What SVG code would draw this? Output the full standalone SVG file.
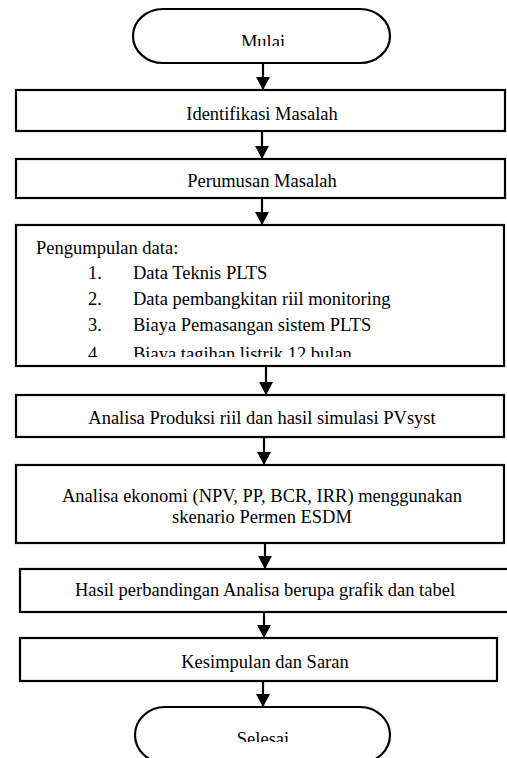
<svg xmlns="http://www.w3.org/2000/svg" width="507" height="758" viewBox="0 0 507 758">
<style>
.box{fill:#fff;stroke:#000;stroke-width:2.2}
text{font-family:'Liberation Serif','Tinos','Times New Roman','DejaVu Serif',serif;font-size:18.5px;fill:#000}
.c{text-anchor:middle}
.ln{stroke:#000;stroke-width:2.2;fill:none}
</style>
<defs>
<marker id="ah" markerWidth="13" markerHeight="14" refX="13" refY="7" orient="auto" markerUnits="userSpaceOnUse" viewBox="0 0 13 14">
<path d="M0,0 L13,7 L0,14 Z" fill="#000"/>
</marker>
<clipPath id="cMulai"><rect x="0" y="0" width="507" height="46"/></clipPath>
<clipPath id="cItem4"><rect x="0" y="340" width="507" height="17"/></clipPath>
<clipPath id="cSelesai"><rect x="0" y="700" width="507" height="42"/></clipPath>
</defs>
<rect width="507" height="758" fill="#fff"/>
<g id="connectors">
<line class="ln" x1="263" y1="63" x2="263" y2="90" marker-end="url(#ah)"/>
<line class="ln" x1="262" y1="131" x2="262" y2="159" marker-end="url(#ah)"/>
<line class="ln" x1="262" y1="198" x2="262" y2="225" marker-end="url(#ah)"/>
<line class="ln" x1="266" y1="366" x2="266" y2="395" marker-end="url(#ah)"/>
<line class="ln" x1="264" y1="437" x2="264" y2="465" marker-end="url(#ah)"/>
<line class="ln" x1="265" y1="543" x2="265" y2="569" marker-end="url(#ah)"/>
<line class="ln" x1="264" y1="612" x2="264" y2="638" marker-end="url(#ah)"/>
<line class="ln" x1="263" y1="681" x2="263" y2="707" marker-end="url(#ah)"/>
</g>
<g id="mulai">
<rect class="box" x="133" y="9" width="257" height="54" rx="30" ry="27"/>
<text class="c" x="263" y="48" clip-path="url(#cMulai)" font-family="Liberation Serif">Mulai</text>
</g>
<g id="identifikasi">
<rect class="box" x="16" y="90" width="489" height="41"/>
<text class="c" x="262" y="120">Identifikasi Masalah</text>
</g>
<g id="perumusan">
<rect class="box" x="16" y="159" width="489" height="39"/>
<text class="c" x="262" y="187">Perumusan Masalah</text>
</g>
<g id="pengumpulan">
<rect class="box" x="16" y="225" width="488" height="141"/>
<text x="36" y="254">Pengumpulan data:</text>
<text x="88" y="279">1.</text><text x="133" y="279">Data Teknis PLTS</text>
<text x="88" y="305">2.</text><text x="133" y="305">Data pembangkitan riil monitoring</text>
<text x="88" y="331">3.</text><text x="133" y="331">Biaya Pemasangan sistem PLTS</text>
<g clip-path="url(#cItem4)"><text x="88" y="360">4.</text><text x="133" y="360">Biaya tagihan listrik 12 bulan</text></g>
</g>
<g id="produksi">
<rect class="box" x="16" y="395" width="488" height="42"/>
<text class="c" x="262" y="424">Analisa Produksi riil dan hasil simulasi PVsyst</text>
</g>
<g id="ekonomi">
<rect class="box" x="16" y="465" width="488" height="78"/>
<text class="c" x="262" y="502">Analisa ekonomi (NPV, PP, BCR, IRR) menggunakan</text>
<text class="c" x="262" y="523">skenario Permen ESDM</text>
</g>
<g id="hasil">
<rect class="box" x="20" y="569" width="500" height="43"/>
<text class="c" x="265" y="596">Hasil perbandingan Analisa berupa grafik dan tabel</text>
</g>
<g id="kesimpulan">
<rect class="box" x="20" y="638" width="477" height="43"/>
<text class="c" x="265" y="668">Kesimpulan dan Saran</text>
</g>
<g id="selesai">
<rect class="box" x="135" y="707" width="255" height="56" rx="30" ry="28"/>
<text class="c" x="263" y="745" clip-path="url(#cSelesai)">Selesai</text>
</g>
</svg>
